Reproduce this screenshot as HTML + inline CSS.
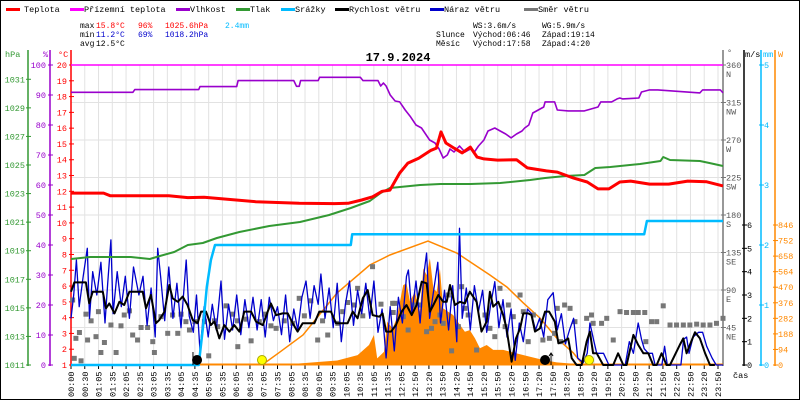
<!DOCTYPE html>
<html><head><meta charset="utf-8">
<style>
html,body{margin:0;padding:0;background:#fff;}
svg{display:block;}
text{font-family:"Liberation Mono","DejaVu Sans Mono",monospace;font-size:8.5px;}
.st{font-size:8px;}
</style></head>
<body>
<svg id="chart" width="800" height="400" viewBox="0 0 800 400" xmlns="http://www.w3.org/2000/svg">
<rect x="0.5" y="0.5" width="799" height="399" fill="#fff" stroke="#000" stroke-width="1"/>
<g id="grid"></g>
<g>
 <g><rect x="6" y="8" width="14" height="3" fill="#f00"/><text x="24" y="12">Teplota</text></g>
 <g><rect x="70" y="8" width="14" height="3" fill="#f0f"/><text x="84" y="12">Přízemní teplota</text></g>
 <g><rect x="176" y="8" width="14" height="3" fill="#90c"/><text x="190" y="12">Vlhkost</text></g>
 <g><rect x="236" y="8" width="14" height="3" fill="#393"/><text x="250" y="12">Tlak</text></g>
 <g><rect x="281" y="8" width="14" height="3" fill="#0bf"/><text x="295" y="12">Srážky</text></g>
 <g><rect x="335" y="8" width="14" height="3" fill="#000"/><text x="349" y="12">Rychlost větru</text></g>
 <g><rect x="430" y="8" width="14" height="3" fill="#00c"/><text x="444" y="12">Náraz větru</text></g>
 <g><rect x="524" y="8" width="14" height="3" fill="#777"/><text x="538" y="12">Směr větru</text></g>
</g>
<g class="st">
 <text class="st" x="80" y="28">max</text><text class="st" x="96" y="28" fill="#f00">15.8°C</text><text class="st" x="138" y="28" fill="#f00">96%</text><text class="st" x="165" y="28" fill="#f00">1025.6hPa</text><text class="st" x="225" y="28" fill="#0bf">2.4mm</text>
 <text class="st" x="80" y="37">min</text><text class="st" x="96" y="37" fill="#00c">11.2°C</text><text class="st" x="138" y="37" fill="#00c">69%</text><text class="st" x="165" y="37" fill="#00c">1018.2hPa</text>
 <text class="st" x="80" y="46">avg</text><text class="st" x="96" y="46">12.5°C</text>
 <text class="st" x="473" y="28">WS:3.6m/s</text><text class="st" x="542" y="28">WG:5.9m/s</text>
 <text class="st" x="436" y="37">Slunce</text><text class="st" x="473" y="37">Východ:06:46</text><text class="st" x="542" y="37">Západ:19:14</text>
 <text class="st" x="436" y="46">Měsíc</text><text class="st" x="473" y="46">Východ:17:58</text><text class="st" x="542" y="46">Západ:4:20</text>
</g>
<text x="398" y="61" text-anchor="middle" style="font-size:12px;font-weight:bold">17.9.2024</text>
<g id="axes"></g>
<g id="series"></g>
</svg>
<script>
// ---- data (hours from start of day, values) ----
const xLabels=["00:00","00:30","01:05","01:35","02:05","02:35","03:05","03:35","04:05","04:35","05:05","05:35","06:05","06:35","07:05","07:35","08:05","08:35","09:05","09:35","10:05","10:35","11:05","11:35","12:05","12:50","13:20","13:50","14:20","14:50","15:20","15:50","16:20","16:50","17:20","17:50","18:20","18:50","19:20","19:50","20:20","20:50","21:20","21:50","22:20","22:50","23:20","23:50"];
const tempH=[0,1.2,1.44,3.6,4.3,4.9,6.8,8.4,9.7,10.2,10.7,11.1,11.45,11.74,12.1,12.4,12.8,13.25,13.45,13.62,13.8,14.1,14.4,14.7,14.95,15.2,15.7,16.4,16.8,17.5,17.9,18.5,19.0,19.4,19.8,20.2,20.6,21.3,22.0,22.7,23.4,24];
const tempV=[11.89,11.89,11.72,11.72,11.6,11.62,11.34,11.24,11.22,11.24,11.45,11.65,12.0,12.08,13.16,13.79,14.1,14.6,14.74,15.76,15.06,14.74,14.43,14.8,14.17,14.05,13.98,14.0,13.48,13.29,13.22,12.84,12.59,12.15,12.15,12.59,12.65,12.46,12.46,12.65,12.6,12.34];
const humH=[0,2.28,2.35,4.7,4.75,6.1,6.15,8.2,8.3,8.4,8.45,9.1,9.15,10.65,10.75,11.3,11.4,11.5,11.6,11.75,11.93,12.1,12.3,12.5,12.7,12.9,13.2,13.4,13.55,13.7,13.85,13.95,14.1,14.3,14.5,14.7,14.85,15.0,15.2,15.35,15.6,15.8,16.0,16.2,16.4,16.6,16.7,16.85,17.0,17.4,17.45,17.8,17.9,18.3,18.9,19.4,19.5,19.9,20.1,20.2,20.3,20.9,21.0,21.3,21.6,23.15,23.25,23.9,24];
const humV=[90.9,90.9,91.8,91.8,92.8,92.8,94.8,94.8,92.9,92.9,94.8,94.8,95.9,95.9,94.8,94.8,93,94,93,90,88,87.7,85,82.7,80,79,75,74,72,69,70,72,71,73,71,72,71,73,75,78,79,78,77,75.7,77,78,79,80,84,86,87.7,87.7,85,84.7,84.7,86,87.7,87.7,88.7,89,88.7,89,91,91.7,91.7,90.7,91.7,91.7,90.7,91.7];
const presH=[0,0.7,2.2,2.9,3.27,3.8,4.3,4.85,5.37,6.2,7.3,8.43,9.5,10.3,11.0,11.4,11.74,12.85,13.6,14.7,15.8,16.9,17.45,18.2,18.9,19.3,19.85,20.95,21.7,21.8,22.05,23.15,23.5,24];
const presV=[1018.42,1018.56,1018.56,1018.42,1018.63,1018.91,1019.4,1019.54,1019.89,1020.31,1020.73,1021.01,1021.5,1021.99,1022.48,1023.04,1023.39,1023.6,1023.67,1023.67,1023.74,1023.95,1024.09,1024.23,1024.3,1024.79,1024.86,1025.07,1025.28,1025.56,1025.35,1025.28,1025.14,1024.93];
const rainH=[0,4.7,4.85,5.0,5.15,5.3,10.3,10.35,21.1,21.2,24];
const rainV=[0,0,0.6,1.3,1.75,2.0,2.0,2.18,2.18,2.4,2.4];
const windH=[0,0.12,0.55,0.67,0.8,1.17,1.29,1.41,1.6,1.78,1.96,2.15,2.64,2.76,2.94,3.13,3.25,3.44,3.62,3.74,3.93,4.11,4.29,4.48,4.66,4.79,4.97,5.15,5.28,5.46,5.64,5.83,6.01,6.2,6.38,6.63,6.81,7.06,7.24,7.36,7.55,7.79,7.98,8.16,8.34,8.53,8.96,9.14,9.33,9.57,9.75,10.18,10.37,10.55,10.74,10.92,11.1,11.35,11.47,11.6,11.78,11.96,12.17,12.35,12.54,12.72,12.91,13.09,13.21,13.34,13.52,13.7,13.83,13.95,14.13,14.32,14.5,14.68,14.93,15.11,15.3,15.42,15.54,15.73,15.91,16.03,16.22,16.38,16.53,16.65,16.83,16.95,17.08,17.26,17.45,17.6,17.81,17.94,18.12,18.3,18.43,18.61,18.8,18.98,19.1,19.22,19.35,19.59,19.78,19.96,20.14,20.33,20.45,20.7,20.88,21.07,21.25,21.43,21.56,21.74,21.92,22.05,22.41,22.54,22.66,22.78,22.97,23.15,23.34,23.52,23.7,24];
const windV=[3.14,3.54,3.54,2.64,3.14,3.14,2.43,2.64,2.21,2.71,2.57,3.14,3.14,2.43,3.0,1.79,1.93,2.29,3.43,2.86,2.71,2.93,2.57,1.93,1.79,2.29,2.29,1.71,1.86,1.14,1.71,1.43,1.71,1.43,2.29,2.29,1.86,1.71,2.29,2.64,2.14,2.21,2.21,1.79,1.43,1.79,1.79,2.29,2.29,2.29,1.79,1.79,2.29,2.0,2.86,3.21,2.14,2.07,2.21,1.43,1.43,1.71,2.29,2.57,2.14,2.57,3.57,3.5,2.29,2.57,3.0,2.71,2.71,3.43,2.57,2.71,2.64,3.14,2.71,1.43,1.86,3.14,2.5,2.71,2.14,1.57,0.14,1.14,1.57,2.21,2.21,2.14,1.43,1.57,2.29,2.29,1.86,0.93,1.0,1.14,0.29,0,0,1.0,1.43,0.5,0.5,0,0,0,0.5,0,0,1.29,0.86,0.5,0.5,0,0,0.5,0,0,0.86,1.14,0.5,0.86,1.4,1.14,0.5,0,0];
const gustH=[0,.1,.2,.3,.45,.6,.68,.8,.95,1.1,1.25,1.35,1.47,1.55,1.7,1.85,2.0,2.15,2.3,2.5,2.65,2.8,2.95,3.1,3.19,3.3,3.45,3.6,3.75,3.9,4.05,4.24,4.35,4.5,4.62,4.75,4.9,5.05,5.2,5.35,5.52,5.65,5.8,5.95,6.1,6.25,6.4,6.55,6.7,6.85,7.0,7.15,7.3,7.45,7.6,7.75,7.9,8.05,8.2,8.35,8.5,8.65,8.8,8.95,9.1,9.2,9.35,9.5,9.65,9.8,9.95,10.1,10.25,10.4,10.55,10.7,10.85,11.0,11.15,11.3,11.45,11.6,11.75,11.9,12.05,12.2,12.35,12.42,12.55,12.7,12.85,13.0,13.09,13.2,13.35,13.5,13.6,13.75,13.9,14.05,14.2,14.3,14.4,14.55,14.7,14.85,15.0,15.15,15.3,15.45,15.6,15.75,15.9,16.05,16.2,16.35,16.5,16.65,16.8,16.95,17.1,17.25,17.4,17.55,17.75,17.9,18.05,18.2,18.35,18.5,18.65,18.85,19.0,19.1,19.25,19.35,19.6,19.8,20.4,20.55,20.7,20.88,21.0,21.1,21.25,21.4,21.5,21.75,21.85,21.95,22.45,22.55,22.66,22.75,22.9,23.1,23.25,23.4,23.6,23.75,24];
const gustV=[2.0,3.0,4.5,2.5,3.8,5.0,2.0,4.0,3.0,4.4,1.8,3.5,5.36,2.2,4.0,2.5,3.8,2.0,4.2,3.0,3.8,1.7,3.3,1.2,5.0,3.8,1.9,4.2,2.0,3.5,1.6,4.5,2.1,1.4,3.0,0.6,2.5,1.2,2.6,1.5,3.6,1.1,2.6,1.5,3.0,1.3,2.8,1.6,2.9,1.5,2.8,1.2,2.9,1.9,2.5,1.3,3.0,1.0,2.4,1.5,2.9,3.6,2.0,3.4,2.6,3.9,2.0,3.3,1.6,3.5,1.0,2.6,3.6,1.7,3.2,2.2,3.5,2.0,3.6,1.4,2.4,0.3,2.5,0.6,2.9,1.8,3.8,4.07,2.2,3.6,1.8,4.0,4.8,2.0,3.2,4.4,1.8,3.2,1.5,3.4,1.0,5.86,2.0,3.3,1.5,3.4,2.3,3.2,1.4,2.6,3.57,1.6,2.8,1.2,2.4,0.2,1.8,1.0,2.4,2.2,1.5,2.0,1.2,2.8,3.1,1.5,2.2,0.9,1.5,2.0,0.3,0.1,0.5,1.8,1.0,0.5,0.5,0,0,1.0,0.5,1.8,1.1,0.7,0.5,0.5,0,0,0.8,0,0,1.1,1.2,0.5,1.2,1.4,1.4,0.8,0.3,0,0];
const dirH=[0.06,0.18,0.37,0.12,0.31,0.55,0.61,0.74,0.92,1.01,1.1,1.23,1.47,1.66,1.84,1.96,2.15,2.27,2.45,2.58,2.82,3.01,3.07,3.31,3.56,3.74,3.93,4.05,4.23,4.36,4.56,4.91,5.07,5.28,5.4,5.71,5.95,6.13,6.14,6.44,6.63,6.93,7.12,7.36,7.55,7.85,8.16,8.4,8.59,8.83,9.08,9.26,9.45,9.82,10.0,10.18,10.43,10.55,10.74,11.1,11.41,11.84,11.86,11.92,12.23,12.41,12.6,12.84,13.09,13.27,13.4,13.58,13.7,13.89,14.01,14.26,14.38,14.5,14.62,14.93,15.24,15.42,15.6,15.79,15.98,16.1,16.28,16.53,16.65,16.83,17.02,17.37,17.61,17.8,17.9,18.02,18.17,18.37,18.55,18.98,19.16,19.22,19.53,19.72,19.96,20.21,20.45,20.7,20.88,21.12,21.16,21.37,21.56,21.8,22.05,22.29,22.54,22.78,23.03,23.27,23.52,23.76,24.0];
const dirV=[78,32,5,8,39,61,30,53,34,64,15,27,48,15,47,60,65,36,30,45,45,28,15,58,38,60,38,61,52,42,52,52,11,53,46,71,61,53,22,55,29,52,61,47,44,53,50,80,59,77,30,53,36,50,64,75,72,92,59,118,73,74,63,74,58,42,72,72,40,44,52,60,50,84,17,46,94,68,60,18,60,44,34,92,46,72,58,84,64,28,60,30,32,38,68,28,72,68,52,56,60,50,50,56,30,64,63,63,63,63,28,52,52,71,48,48,48,48,49,48,48,50,56,55,56,55];
const solarH=[7.7,8.5,9.8,10.55,10.97,11.15,11.27,11.52,11.64,11.83,11.74,11.99,12.23,12.35,12.48,12.66,12.84,12.97,13.09,13.21,13.34,13.46,13.58,13.7,13.88,14.07,14.32,14.5,14.68,14.87,15.05,15.3,15.54,15.91,16.4,16.9,17.39,17.88,18.49,18.86];
const solarV=[0,10,27,60,121,181,40,80,262,222,181,282,483,493,383,443,322,584,543,644,463,443,584,342,322,302,242,201,211,161,101,121,91,91,70,50,30,16,8,0];
const sunH=[7.03,7.7,8.54,9.79,11.0,11.74,13.14,14.2,15.42,16.05,16.65,17.26,17.88,18.49,18.85];
const sunV=[0,80,181,435,604,665,749,677,544,471,375,284,163,73,0];
const tickHpa=[1011,1013,1015,1017,1019,1021,1023,1025,1027,1029,1031];
const tickPct=[0,10,20,30,40,50,60,70,80,90,100];
const tickTemp=[1,2,3,4,5,6,7,8,9,10,11,12,13,14,15,16,17,18,19,20];
const tickDeg=[45,90,135,180,225,270,315,360];
const tickCompass=["NE","E","SE","S","SW","W","NW","N"];
const tickMs=[0,1,2,3,4,5,6];
const tickMm=[0,1,2,3,4,5];
const tickW=[0,94,188,282,376,470,564,658,752,846];

// ---- scales ----
const X=h=>71+h*652/24;
const yT=t=>365-(t-1)*300/19;
const yP=p=>365-(p-1011)*300/21;
const yH=v=>365-v*3;
const yMM=m=>365-m*60;
const yWS=v=>365-v*140/6;
const yW=w=>365-w*140/846;
const yD=d=>365-d*300/360;

const NS="http://www.w3.org/2000/svg";
function mk(tag,attrs,parent){const e=document.createElementNS(NS,tag);for(const k in attrs)e.setAttribute(k,attrs[k]);parent.appendChild(e);return e;}
const grid=document.getElementById('grid'),axes=document.getElementById('axes'),ser=document.getElementById('series');

for(let i=0;i<xLabels.length;i++){
  const x=71+i*647/(xLabels.length-1);
  const l=mk('line',{x1:x,x2:x,y1:65,y2:365,stroke:'#e2e2e2','stroke-width':1},grid);
  
  
  const tk=mk('line',{x1:x,x2:x,y1:365,y2:369,stroke:'#000'},axes);
  
  
  const t=mk('text',{x:0,y:0,transform:`translate(${x+3},397) rotate(-90)`},axes);
  t.textContent=xLabels[i];
  
  
}
for(let k=1;k<8;k++){
  const y=yD(k*45);
  const l=mk('line',{x1:71,x2:723,y1:y,y2:y,stroke:'#e2e2e2','stroke-width':1},grid);
  
  
}
mk('line',{x1:71,x2:723,y1:365,y2:365,stroke:'#ccc'},grid);

function vAxis(x,color,ticks,scale,lblX,anchor,name,y0){
  const g=mk('g',{},axes);
  
  
  mk('line',{x1:x,x2:x,y1:y0,y2:366,stroke:color,'stroke-width':1.5},g);
  ticks.forEach(v=>{const y=scale(v);
    mk('line',{x1:x-2,x2:x+3,y1:y,y2:y,stroke:color},g);
    const t=mk('text',{x:lblX,y:y+3,fill:color,'text-anchor':anchor},g);t.textContent=v;});
  return g;
}
vAxis(28,'#393',tickHpa,yP,25,'end','hpa-axis',50);
vAxis(50,'#90c',tickPct,yH,46,'end','humidity-axis',50);
vAxis(71,'#f00',tickTemp,yT,67,'end','temperature-axis',50);
[['hPa',5,'#393'],['%',43,'#90c'],['°C',58,'#f00']].forEach(a=>{const t=mk('text',{x:a[1],y:57,fill:a[2]},axes);t.textContent=a[0];
  
  });
const gd=mk('g',{},axes);


mk('line',{x1:723,x2:723,y1:50,y2:366,stroke:'#777','stroke-width':1.5},gd);
mk('line',{x1:71,x2:723,y1:65,y2:65,stroke:'#777'},gd);
tickDeg.forEach((d,i)=>{const y=yD(d);mk('line',{x1:721,x2:726,y1:y,y2:y,stroke:'#777'},gd);
 const t=mk('text',{x:726,y:y+3,fill:'#555'},gd);t.textContent=d;
 const c=mk('text',{x:726,y:y+12,fill:'#555'},gd);c.textContent=tickCompass[i];});
const dg=mk('text',{x:727,y:55,fill:'#555'},gd);dg.textContent='°';
vAxis(744,'#000',tickMs,yWS,747,'start','wind-speed-axis',50);
vAxis(761,'#0bf',tickMm,yMM,764,'start','rain-axis',50);
vAxis(775,'#f80',tickW,yW,778,'start','solar-axis',50);
[['m/s',745,'#000'],['mm',763,'#0bf'],['W',778,'#f80']].forEach(a=>{const t=mk('text',{x:a[1],y:57,fill:a[2]},axes);t.textContent=a[0];
  
  });
const cas=mk('text',{x:733,y:378},axes);cas.textContent='čas';



function pts(hs,vs,ys){return hs.map((h,i)=>X(h).toFixed(1)+','+ys(vs[i]).toFixed(1)).join(' ');}
const sa=mk('polygon',{points:X(solarH[0])+',365 '+pts(solarH,solarV,yW)+' '+X(solarH[solarH.length-1])+',365',fill:'#f80'},ser);


const sc=mk('polyline',{points:pts(sunH,sunV,yW),fill:'none',stroke:'#f80','stroke-width':1.5},ser);


const ob=mk('line',{x1:X(4.7),x2:723,y1:364.5,y2:364.5,stroke:'#f80','stroke-width':2},ser);


dirH.forEach((h,i)=>{const r=mk('rect',{x:X(h)-2.5,y:yD(dirV[i])-2.5,width:5,height:5,fill:'#777'},ser);
 
 });
function line(hs,vs,ys,color,w,name){const p=mk('polyline',{points:pts(hs,vs,ys),fill:'none',stroke:color,'stroke-width':w,'stroke-linejoin':'round'},ser);
 
 return p;}
line(gustH,gustV,yWS,'#00c',1.3,'wind-gust-line');
line(windH,windV,yWS,'#000',2,'wind-speed-line');
line(rainH,rainV,yMM,'#0bf',2.5,'rain-line');
line(presH,presV,yP,'#393',2,'pressure-line');
line(humH,humV,yH,'#90c',1.6,'humidity-line');
line(tempH,tempV,yT,'#f00',3,'temperature-line');
const ft=mk('line',{x1:71,x2:723,y1:65,y2:65,stroke:'#f0f','stroke-width':1.5},ser);


const mh=[[4.64,'#000','moonset-marker'],[7.03,'#ff0','sunrise-marker'],[17.45,'#000','moonrise-marker'],[19.07,'#ff0','sunset-marker']];
mh.forEach(m=>{const c=mk('circle',{cx:X(m[0]),cy:360,r:4.5,fill:m[1],stroke:m[1]=='#000'?'#000':'#aa0'},ser);
 
 });
const ar=mk('path',{d:`M${X(4.49)} 352 L${X(4.49)} 365 M${X(17.67)} 354 L${X(17.67)} 365 M${X(17.67)-2} 356 L${X(17.67)} 353 L${X(17.67)+2} 356`,stroke:'#000',fill:'none'},ser);


</script>
</body></html>
